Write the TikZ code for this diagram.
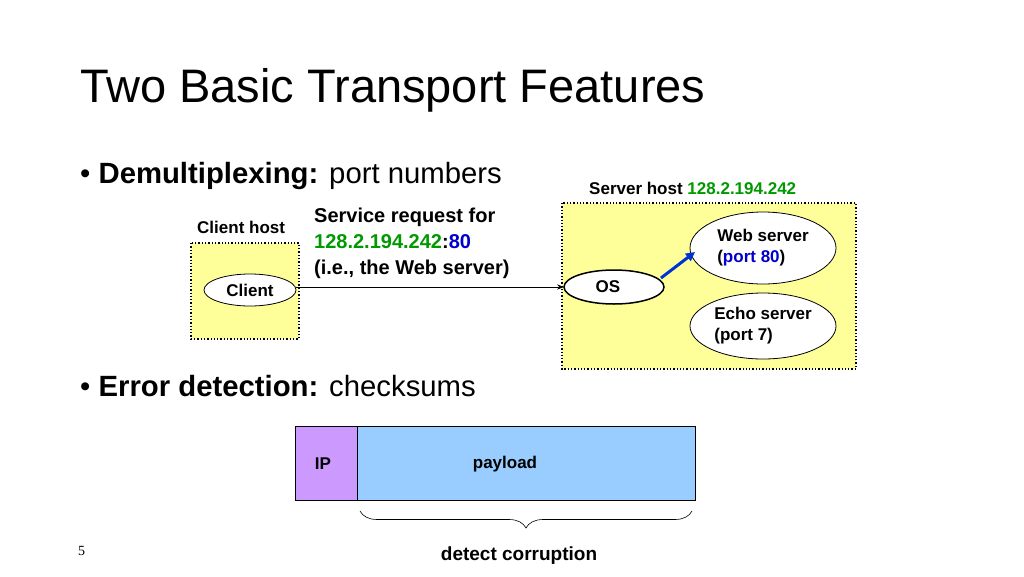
\documentclass[tikz,border=0pt]{standalone}
\usepackage{fontspec}
\setmainfont{Liberation Sans}
\newfontfamily\numfont{Liberation Serif}
\usetikzlibrary{positioning,arrows.meta,decorations.pathreplacing}
\definecolor{hostyellow}{HTML}{FFFF99}
\definecolor{ipgreen}{HTML}{009900}
\definecolor{portblue}{HTML}{0000CC}
\definecolor{ippurple}{HTML}{CC99FF}
\definecolor{payblue}{HTML}{99CCFF}
\newcommand*{\lbl}{\fontsize{17}{21}\selectfont\bfseries}
\newcommand*{\blt}[1]{\fontsize{29.3}{33}\selectfont #1}
\begin{document}
\begin{tikzpicture}[x=1pt,y=-1pt,
  host/.style={draw,fill=hostyellow,dotted,line width=1.3pt},
  proc/.style={draw,fill=white,line width=0.8pt},
  txt/.style={inner sep=0pt,anchor=base west}]
\useasboundingbox (0,0) rectangle (1024,576);
% Title and bullets
\node[txt] (title) at (80,102) {\fontsize{47}{54}\selectfont Two Basic Transport Features};
\node[txt] (demux) at (80,183) {\blt{• \textbf{Demultiplexing:} port numbers}};
\node[txt] (errdet) at (80,396) {\blt{• \textbf{Error detection:} checksums}};
% Hosts
\draw[host] (191,243) rectangle (299,339);
\draw[host] (562,203) rectangle (856,369);
\node[txt,font=\lbl] (clienthost) at (197,233) {Client host};
\node[txt,font=\lbl] (serverhost) at (589,194) {Server host \textcolor{ipgreen}{128.2.194.242}};
% Processes
\draw[proc] (250,290) ellipse (46 and 16);
\node[font=\lbl] (client) at (250,290) {Client};
\draw[proc,line width=1.5pt] (614,287) ellipse (50 and 17);
\node[font=\lbl] (os) at (608,287) {OS};
\draw[proc] (763,248) ellipse (73 and 36);
\node[align=left,font=\lbl] (web) at (763,248) {Web server\\(\textcolor{portblue}{port 80})};
\draw[proc] (763,326) ellipse (73 and 33);
\node[align=left,font=\lbl] (echo) at (763,326) {Echo server\\(port 7)};
% Request
\coordinate (cout) at (296,287);
\coordinate (osin) at (564,287);
\draw[-{Stealth[length=7pt]},line width=0.9pt] (cout) -- (osin);
\coordinate (osout) at (661,278);
\coordinate (webin) at (695,252);
\draw[-{Triangle[length=9pt,width=9pt]},portblue!80!cyan,line width=3pt] (osout) -- (webin);
\node[inner sep=0pt,anchor=north west,align=left,font=\fontsize{20}{26}\selectfont\bfseries] (req) at (314,208)
  {Service request for\\\textcolor{ipgreen}{128.2.194.242}:\textcolor{portblue}{80}\\(i.e., the Web server)};
% Packet
\draw[fill=ippurple,line width=0.6pt] (295,426) rectangle (357,500);
\draw[fill=payblue,line width=0.6pt] (357,426) rectangle (695,500);
\node[font=\lbl] (ip) at (323,464) {IP};
\node[font=\lbl] (payload) at (505,464) {payload};
\coordinate (bl) at (360,511);
\coordinate (br) at (692,511);
\draw[decorate,decoration={brace,amplitude=17pt},line width=0.6pt] (br) -- (bl);
\node[txt,anchor=base] (corrupt) at (519,560) {\fontsize{19}{22}\selectfont\bfseries detect corruption};
\node[txt] (pagenum) at (78,555) {\numfont\fontsize{14}{16}\selectfont 5};
\end{tikzpicture}
\end{document}
